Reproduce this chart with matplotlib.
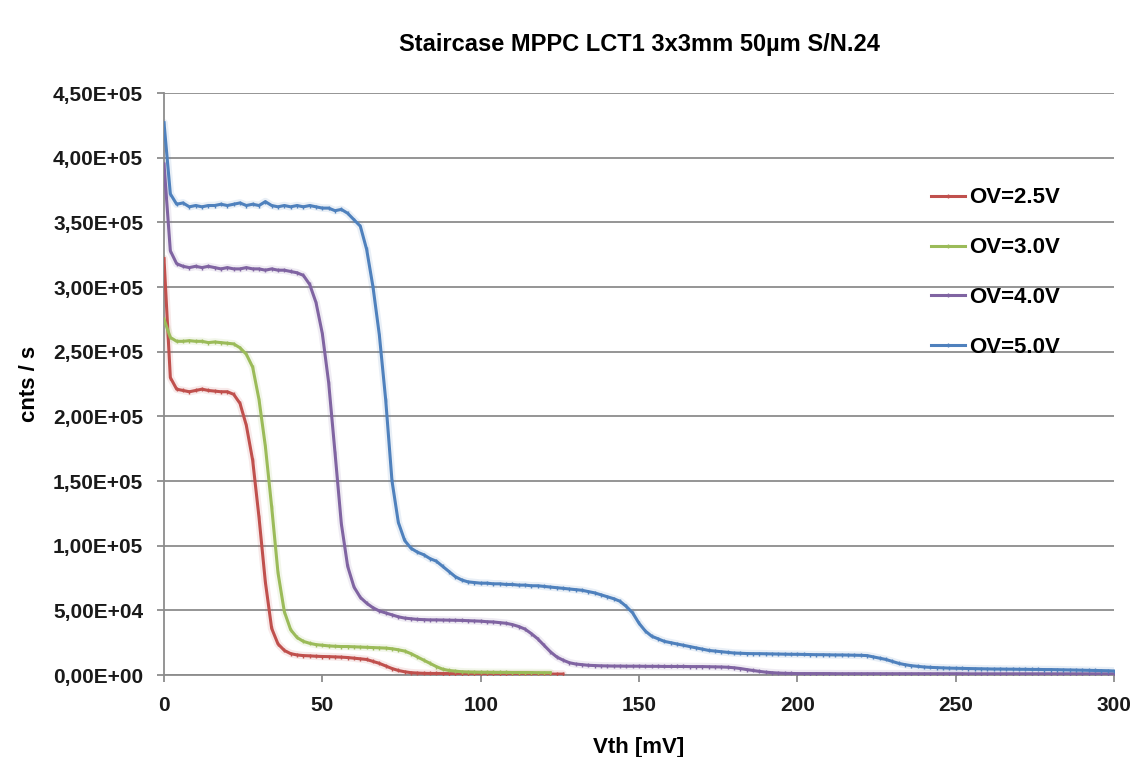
"""Staircase curves (dark-count rate vs threshold) for an MPPC at four overvoltages."""

import matplotlib
matplotlib.use("Agg")
import matplotlib.pyplot as plt
import numpy as np
from matplotlib.ticker import FuncFormatter, MultipleLocator

plt.rcParams["font.family"] = ["Liberation Sans", "DejaVu Sans"]
plt.rcParams["font.weight"] = "bold"

# --- data: counts/s in units of 1e3, sampled every 2 mV from 0 ----------
VTH_STEP = 2  # mV

ov25 = [322, 230, 221, 220, 219, 220, 221, 220, 219.5, 219,
        219, 217, 210, 193, 166, 122, 72, 36, 24, 19,
        16.5, 15.5, 15, 14.8, 14.5, 14.3, 14.2, 14, 13.8, 13.5,
        13, 12.5, 12, 10.5, 9, 7, 5, 3.5, 2.5, 1.8,
        1.5, 1.3, 1.2, 1.2, 1.1, 1.1, 1.0, 1.0, 1.0, 0.9,
        0.9, 0.9, 0.9, 0.8, 0.8, 0.8, 0.8, 0.8, 0.7, 0.7,
        0.7, 0.7, 0.7, 0.7]

ov30 = [275, 261, 258, 258, 258.5, 258, 258, 257, 257.5, 257,
        256.5, 256, 253, 248, 238, 213, 177, 130, 79, 49,
        35, 29, 26, 24.5, 23.5, 23, 22.5, 22.2, 22, 22,
        21.8, 21.6, 21.4, 21.2, 21, 20.8, 20.3, 19.5, 18.5, 16.5,
        14, 11.5, 9, 6.5, 4.5, 3.5, 3, 2.5, 2.3, 2.2,
        2.1, 2.1, 2.0, 2.0, 2.0, 1.9, 1.9, 1.9, 1.9, 1.8,
        1.8, 1.8]

ov40 = [395, 328, 318, 316, 315, 316, 315, 316, 315, 314,
        315, 314, 314, 315, 314, 314, 313, 314, 313, 313,
        312, 311, 309, 302, 288, 264, 226, 172, 117, 84,
        68, 60, 55.5, 52, 49.5, 48, 46.5, 45, 44, 43.5,
        43, 42.8, 42.6, 42.6, 42.5, 42.4, 42.3, 42.2, 42, 41.8,
        41.6, 41.2, 41, 40.5, 40, 39, 37.5, 35.5, 32, 28,
        23, 18, 14, 11.5, 9.5, 8.5, 8, 7.5, 7.3, 7.1,
        7, 6.9, 6.9, 6.8, 6.8, 6.8, 6.7, 6.7, 6.7, 6.6,
        6.6, 6.6, 6.6, 6.5, 6.5, 6.5, 6.4, 6.3, 6.2, 6.0,
        5.6, 5.0, 4.2, 3.5, 2.8, 2.2, 1.8, 1.5, 1.3, 1.2,
        1.1, 1.1, 1.1, 1.1, 1.1, 1.1, 1.0, 1.0, 1.0, 1.0,
        1.0, 1.0, 1.0, 1.0, 1.0, 1.0, 1.0, 1.0, 1.0, 1.0,
        1.0, 1.0, 1.0, 1.0, 1.0, 1.0, 1.0, 0.9, 0.9, 0.9,
        0.9, 0.9, 0.9, 0.9, 0.9, 0.9, 0.9, 0.9, 0.9, 0.9,
        0.9, 0.9, 0.9, 0.9, 0.9, 0.9, 0.9, 0.9, 0.9, 0.9,
        0.9]

ov50 = [427, 372, 364, 365, 362, 363, 362, 363, 363, 364,
        363, 364, 365, 363, 364, 363, 366, 363, 362, 363,
        362, 363, 362, 363, 362, 361, 361, 359, 360, 357,
        352, 347, 329, 300, 263, 213, 150, 118, 104, 98,
        95, 93, 90, 88, 84, 80, 76, 73.5, 72, 71.5,
        71, 71, 70.5, 70.5, 70, 70, 69.5, 69.5, 69, 69,
        68.5, 68, 67.5, 67, 66.5, 66, 65.5, 64.5, 63.5, 62,
        60.5, 59, 57, 53, 48, 40, 34, 30, 28, 26,
        25, 24, 23, 22, 21, 20, 19, 18.5, 18, 17.5,
        17, 16.8, 16.6, 16.5, 16.5, 16.4, 16.3, 16.2, 16.1, 16,
        16, 15.9, 15.8, 15.7, 15.7, 15.6, 15.5, 15.5, 15.4, 15.3,
        15.2, 15, 14, 13, 12, 10.5, 9, 8, 7.2, 6.7,
        6.2, 5.9, 5.7, 5.5, 5.3, 5.2, 5.1, 5.0, 4.9, 4.8,
        4.7, 4.6, 4.6, 4.5, 4.5, 4.4, 4.4, 4.3, 4.3, 4.2,
        4.2, 4.1, 4.0, 3.9, 3.8, 3.7, 3.6, 3.5, 3.4, 3.3,
        3.1]

series = [
    ("OV=2.5V", ov25, "#C0504D"),
    ("OV=3.0V", ov30, "#9BBB59"),
    ("OV=4.0V", ov40, "#8064A2"),
    ("OV=5.0V", ov50, "#4F81BD"),
]

GRID = "#8C8C8C"

# --- plot ----------------------------------------------------------------
fig = plt.figure(figsize=(11.4, 7.57), dpi=100)
ax = fig.add_axes([164 / 1140, 1 - 675 / 757, (1114 - 164) / 1140, (675 - 93) / 757])

for label, vals, color in series:
    y = np.asarray(vals) * 1e3
    x = np.arange(len(y)) * VTH_STEP
    ax.plot(x, y, color=color, lw=5.5, alpha=0.12, solid_capstyle="round", zorder=2)
    ax.plot(x, y, color=color, lw=2.2, marker="|", ms=3.5, mew=1.0,
            label=label, zorder=3)

ax.set_xlim(0, 300)
ax.set_ylim(0, 4.5e5)
ax.xaxis.set_major_locator(MultipleLocator(50))
ax.yaxis.set_major_locator(MultipleLocator(5e4))
ax.yaxis.set_major_formatter(FuncFormatter(lambda v, _: f"{v:.2E}".replace(".", ",")))

ax.grid(axis="y", color=GRID, lw=1.3)
ax.set_axisbelow(True)
for side in ("top", "right"):
    ax.spines[side].set_visible(False)
for side in ("left", "bottom"):
    ax.spines[side].set_color(GRID)
    ax.spines[side].set_linewidth(1.3)

ax.tick_params(axis="both", colors=GRID, length=5, width=1.3, labelcolor="#1a1a1a",
               labelsize=15)
ax.tick_params(axis="y", pad=10)
ax.tick_params(axis="x", pad=10)
for lbl in ax.get_xticklabels() + ax.get_yticklabels():
    lbl.set_fontweight("bold")

ax.set_xlabel("Vth [mV]", fontsize=16, fontweight="bold", labelpad=16)
ax.set_ylabel("cnts / s", fontsize=16, fontweight="bold", labelpad=9)
ax.set_title("Staircase MPPC LCT1 3x3mm 50µm S/N.24", fontsize=17,
             fontweight="bold", pad=30)

leg = ax.legend(loc="upper left", bbox_to_anchor=(0.786, 0.872), frameon=False,
                fontsize=16, handlelength=1.55, handletextpad=0.2, labelspacing=1.3)
for t in leg.get_texts():
    t.set_fontweight("bold")

fig.savefig("out.png", dpi=100)
